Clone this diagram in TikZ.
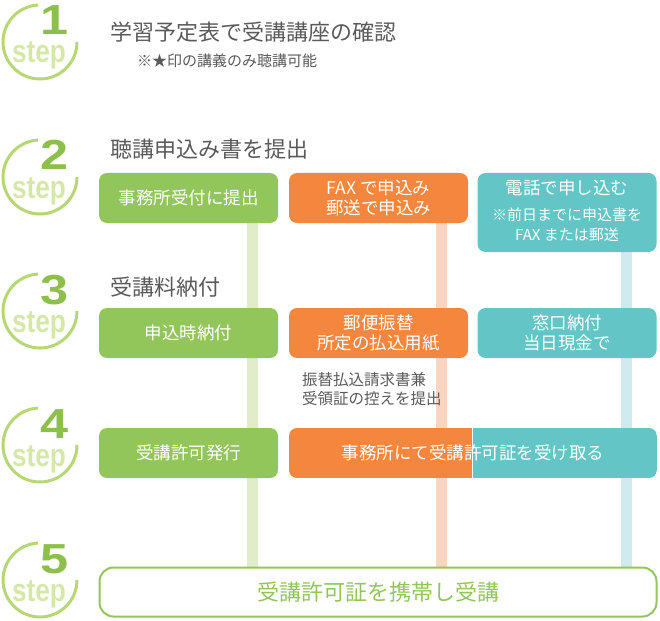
\documentclass[tikz,border=0pt]{standalone}
\usepackage{fontspec}
\setmainfont{Noto Sans CJK JP}
\newfontfamily\stepfont{Liberation Sans}
\definecolor{gboxc}{HTML}{92C55A}
\definecolor{oboxc}{HTML}{F4873D}
\definecolor{tboxc}{HTML}{63C5C6}
\definecolor{glinec}{HTML}{E1EDCA}
\definecolor{olinec}{HTML}{FBD6BE}
\definecolor{tlinec}{HTML}{D0EBEF}
\definecolor{ringc}{HTML}{B7D774}
\definecolor{numc}{HTML}{8CC04B}
\definecolor{wordc}{HTML}{D6E8A8}
\definecolor{textc}{HTML}{5A5A5A}
\begin{document}
\begin{tikzpicture}[x=1pt,y=-1pt,
  box/.style={rounded corners=8pt, minimum width=179pt, minimum height=50pt,
    text=white, align=center, inner sep=0pt,
    font=\fontsize{17.5}{20.5}\selectfont},
  gbox/.style={box, fill=gboxc},
  obox/.style={box, fill=oboxc},
  tbox/.style={box, fill=tboxc},
  title/.style={anchor=west, inner sep=0pt, text=textc, font=\fontsize{22}{26}\selectfont},
  note/.style={anchor=west, inner sep=0pt, text=textc, align=left, font=\fontsize{15.5}{18.5}\selectfont},
  small/.style={inner sep=0pt, text=white, font=\fontsize{15}{18}\selectfont},
  vline/.style={line width=11pt},
  stepring/.style={draw=ringc, line width=3pt},
  stepnum/.style={anchor=base, inner sep=0pt, text height=30pt, text depth=0pt, text=numc, font=\stepfont\bfseries\fontsize{42}{42}\selectfont},
  stepword/.style={anchor=base, inner sep=0pt, text height=20pt, text depth=6pt, text=wordc, font=\stepfont\bfseries\fontsize{32}{32}\selectfont}
]
\useasboundingbox (0,0) rectangle (660,620);

% step icons
\foreach \n/\c in {1/42,2/177,3/311,4/445,5/580}{
  \draw[stepring] (40,\c) ++(0:37pt) arc[start angle=0, end angle=-267, radius=37pt];
  \node[stepword] (word\n) at (39,\c+21) {\scalebox{0.82}[1]{step}};
  \node[stepnum] (num\n) at (55,\c-7) {\scalebox{1.2}[1]{\n}};
}

% titles
\node[title] (title1) at (110,32) {学習予定表で受講講座の確認};
\node[anchor=west, inner sep=0pt, text=textc, font=\fontsize{15}{18}\selectfont] (sub1) at (137,61) {※★印の講義のみ聴講可能};
\node[title] (title2) at (110,149) {聴講申込み書を提出};
\node[title] (title3) at (110,287) {受講料納付};

% vertical guide lines (behind boxes)
\coordinate (gtop) at (252.5,223);
\coordinate (otop) at (441.5,223);
\coordinate (ttop) at (626,252);
\coordinate (gbot) at (252.5,567);
\coordinate (obot) at (441.5,567);
\coordinate (tbot) at (626,567);
\draw[vline, glinec] (gtop) -- (gbot);
\draw[vline, olinec] (otop) -- (obot);
\draw[vline, tlinec] (ttop) -- (tbot);

% step 2
\node[gbox] (g2) at (188.5,198) {事務所受付に提出};
\node[obox] (o2) at (378.5,198) {FAX で申込み\\郵送で申込み};
\node[tbox, minimum height=79pt] (t2) at (567,212.5) {};
\node[small, font=\fontsize{17.5}{20}\selectfont] (t2a) at (567,188) {電話で申し込む};
\node[small] (t2b) at (567,215) {※前日までに申込書を};
\node[small] (t2c) at (567,235) {FAX または郵送};

% step 3
\node[gbox] (g3) at (188.5,333) {申込時納付};
\node[obox] (o3) at (378.5,333) {郵便振替\\所定の払込用紙};
\node[tbox] (t3) at (567,333) {窓口納付\\当日現金で};
\node[note] (n3) at (302,389) {振替払込請求書兼\\受領証の控えを提出};

% step 4
\node[gbox] (g4) at (188.5,453) {受講許可発行};
\begin{scope}
  \clip[rounded corners=8pt] (289,428) rectangle (657,478);
  \fill[oboxc, sharp corners] (289,428) rectangle (472.5,478);
  \fill[tboxc, sharp corners] (472.5,428) rectangle (657,478);
  \draw[white, line width=1pt] (472.5,428) -- (472.5,478);
\end{scope}
\node[box, minimum width=368pt] (ot4) at (473,453) {事務所にて受講許可証を受け取る};

% step 5
\node[rounded corners=14pt, draw=gboxc, line width=2pt, fill=white,
  minimum width=557pt, minimum height=49pt, inner sep=0pt,
  text=gboxc, font=\fontsize{22}{26}\selectfont] (s5) at (378,592) {受講許可証を携帯し受講};
\end{tikzpicture}
\end{document}
